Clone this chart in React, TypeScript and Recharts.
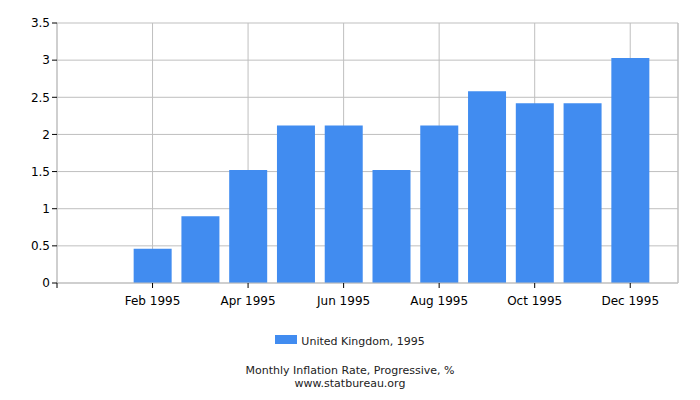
import React from 'react';
import { BarChart, Bar, XAxis, YAxis, CartesianGrid, ReferenceLine } from 'recharts';

const months = ['Jan', 'Feb', 'Mar', 'Apr', 'May', 'Jun', 'Jul', 'Aug', 'Sep', 'Oct', 'Nov', 'Dec'];
const inflation = [0, 0.46, 0.9, 1.52, 2.12, 2.12, 1.52, 2.12, 2.58, 2.42, 2.42, 3.03];
const yTicks = [0, 0.5, 1, 1.5, 2, 2.5, 3, 3.5];
const xTicks = [0, 2, 4, 6, 8, 10, 12];

const BAR_COLOR = '#418cf0';
const GRID_COLOR = '#bfbfbf';
const FONT = '"DejaVu Sans", Verdana, sans-serif';

const data = months.map((m, i) => ({ idx: i + 1, month: m, value: inflation[i] }));

const formatX = (v: number) => (v >= 1 && v <= 12 ? `${months[v - 1]} 1995` : '');

const App: React.FC = () => {
  return (
    <div style={{ position: 'absolute', left: 0, top: 0, width: 700, height: 400, fontFamily: FONT }}>
      <BarChart
        width={700}
        height={400}
        data={data}
        margin={{ top: 23, right: 22, bottom: 87, left: 0 }}
      >
        <CartesianGrid stroke={GRID_COLOR} strokeDasharray="" />
        <XAxis
          dataKey="idx"
          type="number"
          domain={[0, 13]}
          ticks={xTicks}
          tickFormatter={formatX}
          height={30}
          axisLine={{ stroke: GRID_COLOR }}
          tickLine={{ stroke: '#000' }}
          tickSize={5}
          tickMargin={8}
          tick={{ fill: '#000', fontSize: 12, fontFamily: FONT }}
          interval={0}
        />
        <YAxis
          domain={[0, 3.5]}
          ticks={yTicks}
          width={57}
          axisLine={{ stroke: GRID_COLOR }}
          tickLine={{ stroke: '#000' }}
          tickSize={5}
          tickMargin={2}
          tick={{ fill: '#000', fontSize: 12, fontFamily: FONT }}
          interval={0}
        />
        <ReferenceLine x={13} stroke={GRID_COLOR} />
        <Bar dataKey="value" fill={BAR_COLOR} barSize={38} isAnimationActive={false} />
      </BarChart>
      <div
        style={{
          position: 'absolute',
          top: 335,
          left: 0,
          width: 700,
          display: 'flex',
          justifyContent: 'center',
          alignItems: 'flex-start',
          fontSize: 11,
          lineHeight: '13px',
          color: '#222',
        }}
      >
        <span style={{ display: 'inline-block', width: 22, height: 9, background: BAR_COLOR, marginRight: 4 }} />
        <span>United Kingdom, 1995</span>
      </div>
      <div
        style={{
          position: 'absolute',
          top: 364,
          left: 0,
          width: 700,
          textAlign: 'center',
          fontSize: 11,
          lineHeight: '13px',
          color: '#222',
        }}
      >
        <div>Monthly Inflation Rate, Progressive, %</div>
        <div>www.statbureau.org</div>
      </div>
    </div>
  );
};

export default App;
